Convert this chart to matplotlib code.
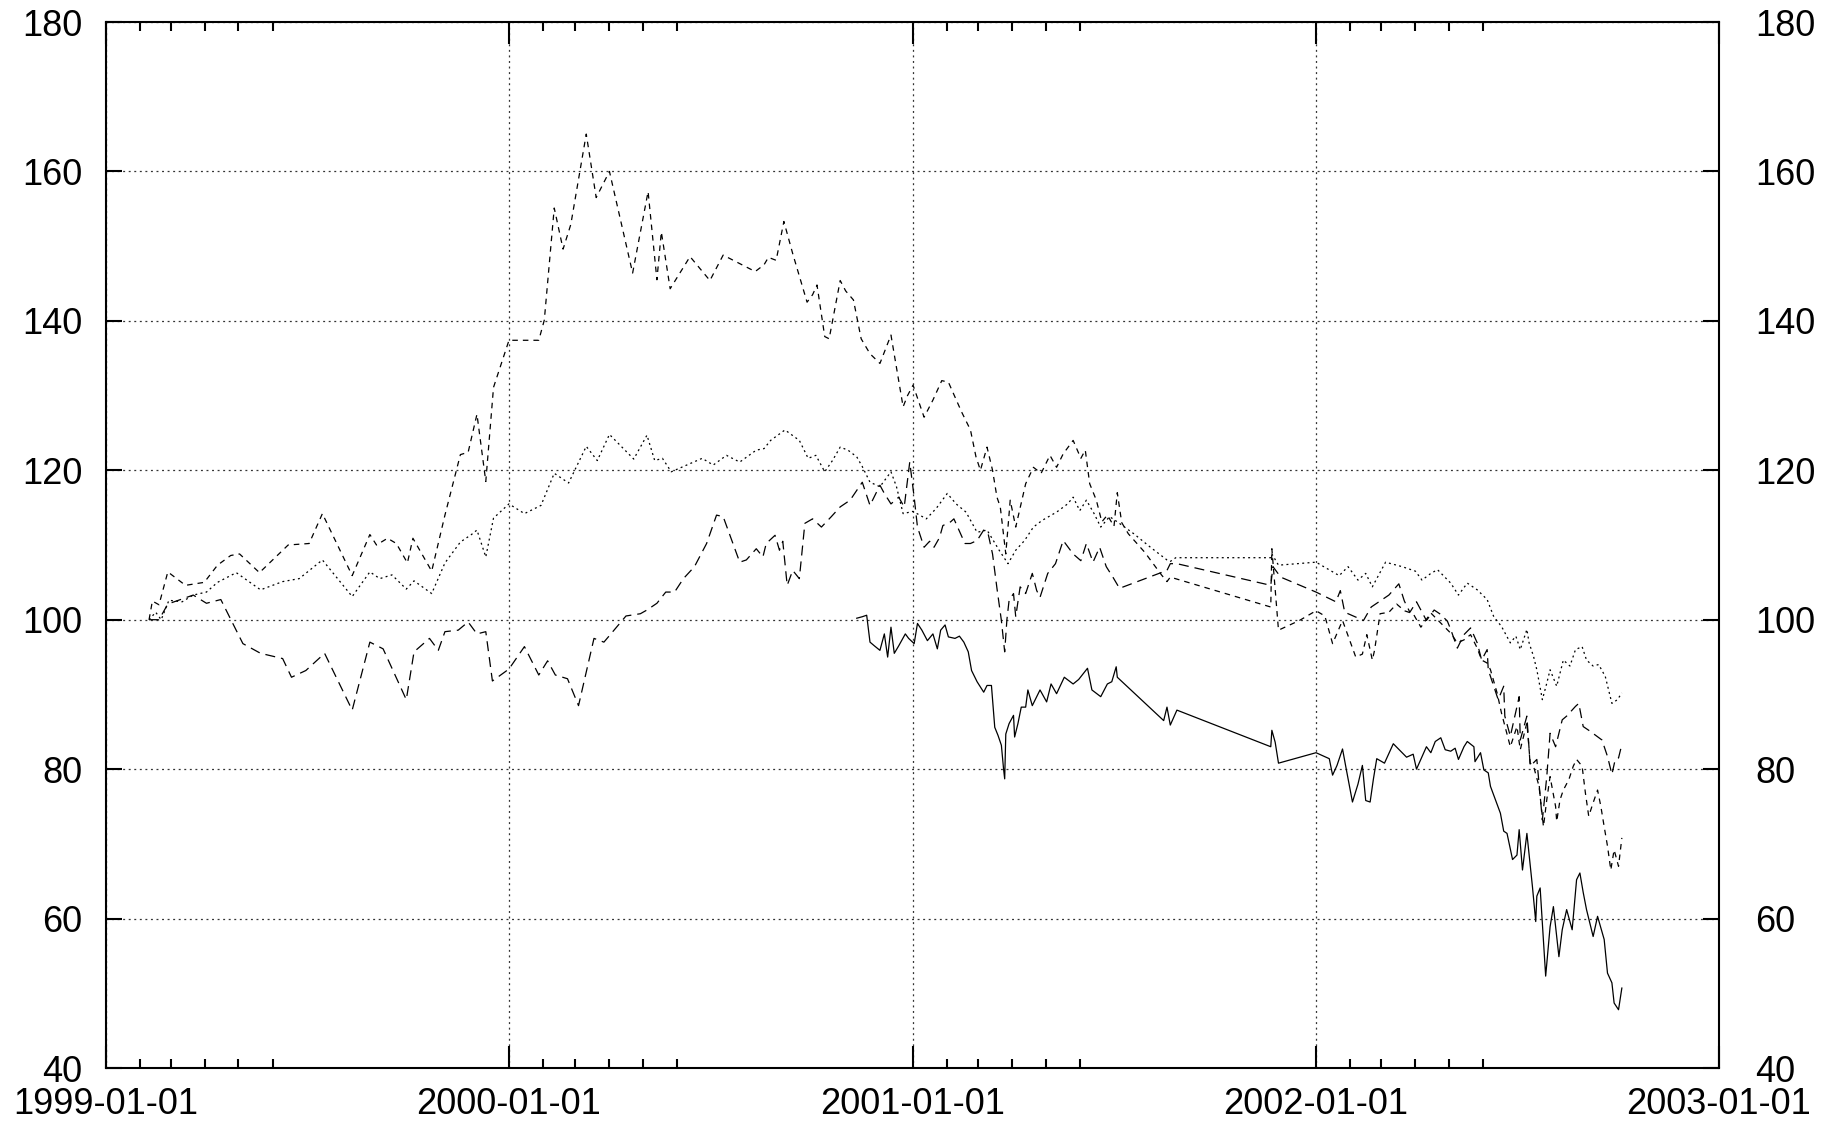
import numpy as np
import matplotlib
matplotlib.use("Agg")
import matplotlib.pyplot as plt
import matplotlib.dates as mdates

# ---------------- data (days since 1999-01-01, index values) ----------------
solid_day = [680, 685, 689, 692, 696, 701, 705, 708, 711, 714, 718, 724, 727,
             732, 735, 739, 744, 749, 753, 756, 760, 763, 769, 773, 777, 781, 784, 789, 795, 798,
             802, 805, 808, 811, 813, 814, 815, 818, 822, 823, 826, 829, 833, 835, 839, 846, 852,
             856, 861, 868, 876, 881, 889, 893, 901, 907, 911, 915, 916, 958, 961, 964, 970,
             1055, 1056, 1059, 1062, 1096, 1108, 1111, 1115, 1120, 1123, 1129, 1134, 1138, 1141,
             1145, 1148, 1151, 1158, 1166, 1178, 1184, 1187, 1196,
             1200, 1204, 1209, 1213, 1218, 1222, 1225, 1230, 1233, 1239, 1240, 1245, 1248, 1252,
             1254, 1258, 1263, 1266, 1269, 1274, 1278, 1280, 1283, 1287, 1292, 1295, 1296, 1299,
             1304, 1308, 1311, 1316, 1319, 1323, 1328, 1332, 1335, 1338, 1341, 1347, 1351, 1357,
             1360, 1364, 1366, 1370, 1373]
solid_val = [100.2, 100.4, 100.6, 97.0, 96.5, 95.9, 98.1, 95.0, 99.0, 95.5, 96.5, 98.1, 97.5,
             96.8, 99.5, 98.6, 97.2, 98.1, 96.1, 98.6, 99.3, 97.7, 97.5, 97.8, 97.0, 95.7, 93.2, 91.7, 90.3, 91.2,
             91.2, 85.6, 84.5, 83.2, 80.0, 78.7, 84.7, 86.1, 87.2, 84.3, 86.1, 88.3, 88.3, 90.6, 88.5, 90.6, 89.0,
             91.4, 90.1, 92.3, 91.4, 92.0, 93.5, 90.6, 89.7, 91.4, 91.7, 93.7, 92.3, 86.5, 88.3, 85.9, 87.9,
             83.0, 85.2, 83.6, 80.8, 82.2, 81.4, 79.2, 80.5, 82.7, 80.3, 75.6, 78.0, 80.5, 75.8,
             75.6, 78.7, 81.4, 80.8, 83.4, 81.6, 82.0, 80.0, 83.0,
             82.2, 83.7, 84.2, 82.6, 82.4, 82.8, 81.3, 83.0, 83.7, 83.0, 81.0, 82.2, 79.9, 79.5,
             77.7, 76.1, 74.1, 71.7, 71.4, 67.9, 68.5, 71.9, 66.5, 71.4, 64.3, 59.6, 63.0, 64.1,
             52.3, 58.9, 61.6, 54.9, 58.5, 61.2, 58.5, 65.2, 66.1, 63.5, 61.2, 57.6, 60.3, 57.2,
             52.7, 51.4, 48.7, 47.8, 50.7]

longdash_day = [39, 48, 56, 79, 91, 104, 124, 140, 160, 168, 181, 198, 223, 239, 251, 260, 272,
                279, 293, 301, 307, 319, 328, 336, 344, 350,
                365, 379, 392, 400, 407, 418, 428, 442, 451, 471, 484, 490, 499, 507, 515, 523,
                533, 544, 553, 559, 574, 580, 589, 595, 598, 606, 610, 613, 617, 622, 628, 633,
                640, 648, 657, 665, 674, 685, 692, 701, 705, 711, 718, 723, 728,
                732, 735, 741, 746, 750, 755, 758, 765, 768, 774, 778, 783, 789, 795, 799, 803,
                807, 811, 814, 816, 818, 822, 824, 828, 833, 839, 843, 846, 853, 860, 867, 876,
                883, 888, 894, 900, 906, 912, 918, 961, 964, 970,
                1055, 1057, 1064, 1096, 1114, 1118, 1122, 1139, 1146, 1154, 1162, 1171, 1176,
                1181, 1187, 1196,
                1203, 1209, 1215, 1218, 1224, 1230, 1236, 1242, 1246, 1251, 1252, 1257, 1261,
                1266, 1267, 1272, 1280, 1281, 1287, 1290, 1296, 1301, 1305, 1308, 1313, 1319,
                1323, 1331, 1334, 1338, 1344, 1355, 1360, 1364, 1367, 1370, 1373]
longdash_val = [100.0, 100.0, 102.1, 103.3, 102.2, 102.7, 96.8, 95.5, 94.8, 92.3, 93.2, 95.5, 87.9, 97.0, 96.1, 93.2, 89.3,
                95.7, 97.5, 95.9, 98.4, 98.6, 99.7, 98.1, 98.4, 91.8,
                93.4, 96.4, 92.6, 94.5, 92.6, 92.1, 88.5, 97.5, 97.0, 100.5, 100.8, 101.3, 102.2, 103.7, 103.7, 105.5,
                107.1, 110.2, 114.0, 113.8, 107.7, 108.0, 109.5, 108.4, 110.2, 111.3, 109.3, 110.5, 104.6, 106.6, 105.5, 112.9,
                113.5, 112.4, 113.8, 115.1, 116.0, 118.4, 115.3, 118.0, 116.9, 115.5, 116.4, 115.1, 121.1,
                116.4, 112.4, 109.7, 110.5, 109.7, 111.0, 112.6, 113.1, 113.5, 111.5, 110.2, 110.2, 110.6, 112.0, 111.5, 108.8,
                104.2, 99.9, 95.7, 100.0, 102.6, 103.5, 100.4, 104.4, 103.5, 106.2, 103.9, 103.0, 106.2, 107.5, 110.6, 108.8,
                107.9, 110.2, 107.7, 109.7, 107.1, 105.7, 104.2, 106.6, 107.5, 107.5,
                104.6, 107.1, 105.7, 103.7, 102.4, 103.9, 101.0, 99.9, 101.7, 102.5, 103.3, 104.8, 102.5,
                101.0, 102.4, 99.9,
                101.3, 100.7, 99.8, 98.7, 96.2, 98.0, 98.9, 96.9, 94.6, 96.0, 93.3, 91.1, 89.3,
                91.1, 87.1, 84.4, 89.7, 83.9, 87.1, 80.4, 81.3, 73.2, 79.0, 84.8, 83.0, 86.6,
                87.1, 88.4, 88.8, 85.7, 85.1, 83.9, 81.7, 79.3, 81.3, 81.5, 83.3]

dash_day = [39, 42, 48, 56, 72, 89, 101, 113, 121, 139, 165, 184, 196, 223, 239, 245, 255, 263,
            273, 278, 295, 307, 321, 328, 336, 344, 351,
            365, 392, 397, 406, 414, 421, 435, 444, 456, 477, 491, 499, 503, 511, 529, 547, 559,
            588, 596, 600, 607, 614, 622, 635, 640, 644, 651, 655, 665, 670, 677, 684, 692, 701,
            711, 722, 726, 731, 741, 749, 757, 763, 775, 783, 788, 792, 798, 803, 807, 810, 815,
            819, 824, 833, 840, 847, 855, 861, 867, 876, 883, 887, 891, 897, 902, 907, 913, 916,
            920, 926, 941, 956, 961, 964,
            1055, 1056, 1059, 1062, 1081, 1096, 1104, 1111, 1120, 1132, 1138, 1142, 1147, 1149,
            1154, 1162, 1169, 1176, 1184, 1191,
            1200, 1212, 1218, 1224, 1230, 1236, 1242, 1246, 1251, 1254, 1260, 1264, 1272, 1278,
            1281, 1287, 1290, 1293, 1298, 1302, 1305, 1308, 1313, 1314, 1317, 1320, 1325, 1329,
            1332, 1337, 1340, 1343, 1347, 1351, 1354, 1357, 1360, 1363, 1366, 1370, 1373]
dash_val = [100.0, 102.5, 102.0, 106.4, 104.6, 105.0, 107.3, 108.6, 108.8, 106.3, 110.0, 110.2, 114.2, 105.9, 111.4, 110.0, 110.9, 110.2,
            107.6, 110.9, 106.5, 114.0, 122.1, 122.4, 127.5, 118.5, 131.1,
            137.4, 137.4, 140.1, 155.1, 149.6, 152.9, 165.0, 156.5, 160.0, 146.4, 157.3, 145.5, 151.9, 144.3, 148.6, 145.4, 148.8,
            146.6, 147.5, 148.5, 148.1, 153.3, 149.0, 142.5, 143.5, 144.8, 137.9, 137.6, 145.4, 144.0, 142.8, 137.6, 135.6, 134.3,
            138.1, 128.5, 130.0, 131.4, 127.1, 129.4, 132.0, 131.8, 127.8, 125.4, 121.8, 120.0, 123.1, 120.0, 116.4, 115.1, 108.8,
            116.0, 112.4, 118.2, 120.4, 119.6, 122.0, 120.4, 122.2, 124.0, 121.6, 122.7, 118.2, 116.0, 113.1, 114.0, 112.5, 117.0,
            113.0, 111.5, 109.0, 106.0, 105.1, 105.7,
            101.7, 109.5, 104.0, 98.6, 99.9, 101.2, 100.5, 96.8, 99.9, 95.0, 95.4, 98.0, 94.6, 95.9,
            100.8, 101.0, 102.1, 101.2, 100.8, 99.0,
            100.9, 99.1, 98.2, 96.9, 97.3, 98.0, 96.2, 94.6, 94.2, 93.3, 90.2, 87.5, 83.0, 85.7,
            82.6, 86.2, 80.8, 80.4, 77.7, 72.3, 75.9, 79.0, 75.0, 73.0, 75.9, 77.2, 78.6, 80.4,
            81.3, 80.4, 76.8, 73.7, 75.5, 77.2, 75.0, 72.3, 69.7, 66.5, 69.2, 67.0, 70.8]

dot_day = [39, 45, 50, 57, 69, 79, 91, 101, 118, 140, 160, 175, 196, 223, 239, 248, 259, 272,
           279, 295, 307, 321, 331, 336, 344, 351,
           365, 379, 394, 406, 419, 435, 445, 456, 478, 490, 497, 504, 512, 529, 540, 550, 562,
           574, 589, 596, 602, 615, 628, 636, 643, 651, 658, 665, 672, 680, 685, 692, 701, 711,
           716, 722,
           731, 743, 752, 762, 770, 779, 789, 798, 809, 817, 824, 832, 840, 848, 861, 871, 876,
           882, 888, 895, 901, 909, 916, 931, 946, 961, 964, 969,
           1055, 1056, 1062, 1096, 1117, 1125, 1134, 1141, 1147, 1159, 1174, 1186, 1192,
           1200, 1206, 1218, 1225, 1233, 1242, 1251, 1257, 1264, 1272, 1277, 1281, 1287, 1289,
           1293, 1296, 1301, 1305, 1308, 1314, 1320, 1326, 1331, 1337, 1341, 1347, 1352, 1358,
           1364, 1369, 1373]
dot_val = [100.0, 101.0, 100.0, 102.6, 102.4, 103.3, 103.7, 105.0, 106.3, 104.0, 105.1, 105.5, 108.0, 103.1, 106.4, 105.5, 106.0, 104.1,
           105.2, 103.5, 107.6, 110.4, 111.4, 112.0, 108.4, 113.6,
           115.5, 114.2, 115.3, 119.6, 118.3, 123.2, 121.3, 124.8, 121.5, 124.7, 121.3, 121.6, 119.8, 120.9, 121.6, 120.7, 122.0,
           121.1, 122.7, 122.9, 124.0, 125.4, 124.0, 121.6, 122.0, 119.8, 121.3, 123.1, 122.7, 121.8, 120.5, 118.4, 117.8, 119.8,
           117.8, 114.2,
           114.5, 113.5, 114.9, 116.9, 115.5, 114.4, 111.7, 112.0, 109.3, 107.5, 109.3, 110.6, 112.4, 113.3, 114.4, 115.5, 116.4,
           114.6, 116.0, 114.2, 112.4, 113.8, 113.1, 111.5, 109.7, 108.0, 107.8, 108.3,
           108.3, 108.8, 107.3, 107.7, 105.9, 107.1, 105.3, 106.2, 104.4, 107.7, 107.1, 106.5, 105.3,
           106.2, 106.7, 104.9, 103.3, 104.9, 104.0, 102.7, 100.4, 99.1, 96.9, 97.8, 96.0, 98.7, 96.9,
           95.1, 93.3, 89.3, 91.5, 93.3, 91.1, 94.6, 93.8, 96.0, 96.4, 94.6, 93.8, 94.0, 92.4,
           88.8, 89.3, 90.2]

y_ticks = [40, 60, 80, 100, 120, 140, 160, 180]
x_start, x_end = "1999-01-01", "2003-01-01"

# ---------------- drawing ----------------
plt.rcParams["font.family"] = ["Liberation Sans", "DejaVu Sans"]
plt.rcParams["lines.scale_dashes"] = False

base = np.datetime64("1999-01-01")


def to_dates(days):
    return base + np.array(days).astype("timedelta64[D]")


fig = plt.figure(figsize=(18.34, 11.26), dpi=100)
ax = fig.add_axes([106 / 1834, 1 - 1068 / 1126, (1719 - 106) / 1834, (1068 - 22) / 1126])

lw = 0.9
ax.plot(to_dates(solid_day), solid_val, color="black", lw=lw, linestyle="-")
ax.plot(to_dates(longdash_day), longdash_val, color="black", lw=lw, linestyle=(0, (7.2, 4.3)))
ax.plot(to_dates(dash_day), dash_val, color="black", lw=lw, linestyle=(0, (4.0, 3.6)))
ax.plot(to_dates(dot_day), dot_val, color="black", lw=lw, linestyle=(0, (1.4, 2.4)))

ax.set_xlim(np.datetime64(x_start), np.datetime64(x_end))
ax.set_ylim(y_ticks[0], y_ticks[-1])
ax.set_yticks(y_ticks)

ax.xaxis.set_major_locator(mdates.YearLocator())
ax.xaxis.set_major_formatter(mdates.DateFormatter("%Y-%m-%d"))
ax.xaxis.set_minor_locator(mdates.MonthLocator(bymonth=[2, 3, 4, 5, 6]))

ax.grid(True, which="major", color="#333333", lw=0.9, linestyle=(0, (1.4, 2.6)))

for s in ax.spines.values():
    s.set_linewidth(1.5)

ax.tick_params(axis="x", which="major", direction="in", length=15.8, width=1.5,
               top=True, labelsize=26, pad=13.5)
ax.tick_params(axis="x", which="minor", direction="in", length=6.5, width=1.5, top=True)
ax.tick_params(axis="y", which="major", direction="in", length=11.5, width=1.5,
               right=True, labelright=True, labelsize=26, pad=17)
# right-side labels further out
for t in ax.yaxis.get_major_ticks():
    t.label2.set_transform(ax.get_yaxis_transform() +
                           matplotlib.transforms.ScaledTranslation(26 / 72, 0, fig.dpi_scale_trans))

fig.savefig("out.png", dpi=100, facecolor="white")
